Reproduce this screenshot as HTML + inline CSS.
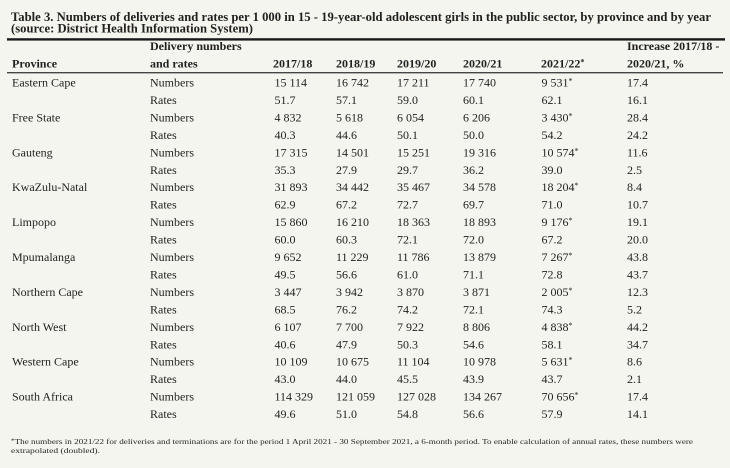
<!DOCTYPE html>
<html>
<head>
<meta charset="utf-8">
<style>
  html, body { margin:0; padding:0; background:#f3f5ee; }
  body { width:730px; height:468px; overflow:hidden; }
  svg { display:block; }
  text { font-family:"Liberation Serif", serif; fill:#231f20; }
  .t { font-size:13px; font-weight:bold; }
  .h { font-size:12px; font-weight:bold; }
  .d { font-size:12px; }
  .f { font-size:7.6px; }
</style>
</head>
<body>
<svg width="730" height="468" viewBox="0 0 730 468" xmlns="http://www.w3.org/2000/svg">
  <rect x="0" y="0" width="730" height="468" fill="#f3f5ee"/>
  <!-- Title -->
  <text class="t" x="11" y="21" textLength="700" lengthAdjust="spacingAndGlyphs">Table 3. Numbers of deliveries and rates per 1 000 in 15 - 19-year-old adolescent girls in the public sector, by province and by year</text>
  <text class="t" x="11" y="32.5" textLength="242" lengthAdjust="spacingAndGlyphs">(source: District Health Information System)</text>
  <rect x="7" y="38.2" width="718" height="2.4" fill="#1a1a1a"/>

  <!-- Header -->
  <text class="h" x="150" y="50">Delivery numbers</text>
  <text class="h" x="627" y="50">Increase 2017/18 -</text>
  <text class="h" x="12" y="67.5">Province</text>
  <text class="h" x="150" y="67.5">and rates</text>
  <text class="h" x="273" y="67.5">2017/18</text>
  <text class="h" x="336" y="67.5">2018/19</text>
  <text class="h" x="397" y="67.5">2019/20</text>
  <text class="h" x="463" y="67.5">2020/21</text>
  <text class="h" x="541" y="67.5">2021/22<tspan font-size="8" dy="-3">*</tspan></text>
  <text class="h" x="627" y="67.5">2020/21, %</text>
  <rect x="7" y="72.2" width="716" height="1.1" fill="#1a1a1a"/>

  <!-- Body -->
  <g class="d">
    <!-- Eastern Cape -->
    <text class="d" x="12" y="86.5">Eastern Cape</text>
    <text class="d" x="150" y="86.5">Numbers</text>
    <text class="d" x="274.5" y="86.5">15 114</text>
    <text class="d" x="336" y="86.5">16 742</text>
    <text class="d" x="397" y="86.5">17 211</text>
    <text class="d" x="463" y="86.5">17 740</text>
    <text class="d" x="541.5" y="86.5">9 531<tspan font-size="8" dy="-3">*</tspan></text>
    <text class="d" x="627" y="86.5">17.4</text>

    <text class="d" x="150" y="103.95">Rates</text>
    <text class="d" x="274.5" y="103.95">51.7</text>
    <text class="d" x="336" y="103.95">57.1</text>
    <text class="d" x="397" y="103.95">59.0</text>
    <text class="d" x="463" y="103.95">60.1</text>
    <text class="d" x="541.5" y="103.95">62.1</text>
    <text class="d" x="627" y="103.95">16.1</text>

    <!-- Free State -->
    <text class="d" x="12" y="121.4">Free State</text>
    <text class="d" x="150" y="121.4">Numbers</text>
    <text class="d" x="274.5" y="121.4">4 832</text>
    <text class="d" x="336" y="121.4">5 618</text>
    <text class="d" x="397" y="121.4">6 054</text>
    <text class="d" x="463" y="121.4">6 206</text>
    <text class="d" x="541.5" y="121.4">3 430<tspan font-size="8" dy="-3">*</tspan></text>
    <text class="d" x="627" y="121.4">28.4</text>

    <text class="d" x="150" y="138.85">Rates</text>
    <text class="d" x="274.5" y="138.85">40.3</text>
    <text class="d" x="336" y="138.85">44.6</text>
    <text class="d" x="397" y="138.85">50.1</text>
    <text class="d" x="463" y="138.85">50.0</text>
    <text class="d" x="541.5" y="138.85">54.2</text>
    <text class="d" x="627" y="138.85">24.2</text>

    <!-- Gauteng -->
    <text class="d" x="12" y="156.3">Gauteng</text>
    <text class="d" x="150" y="156.3">Numbers</text>
    <text class="d" x="274.5" y="156.3">17 315</text>
    <text class="d" x="336" y="156.3">14 501</text>
    <text class="d" x="397" y="156.3">15 251</text>
    <text class="d" x="463" y="156.3">19 316</text>
    <text class="d" x="541.5" y="156.3">10 574<tspan font-size="8" dy="-3">*</tspan></text>
    <text class="d" x="627" y="156.3">11.6</text>

    <text class="d" x="150" y="173.75">Rates</text>
    <text class="d" x="274.5" y="173.75">35.3</text>
    <text class="d" x="336" y="173.75">27.9</text>
    <text class="d" x="397" y="173.75">29.7</text>
    <text class="d" x="463" y="173.75">36.2</text>
    <text class="d" x="541.5" y="173.75">39.0</text>
    <text class="d" x="627" y="173.75">2.5</text>

    <!-- KwaZulu-Natal -->
    <text class="d" x="12" y="191.2">KwaZulu-Natal</text>
    <text class="d" x="150" y="191.2">Numbers</text>
    <text class="d" x="274.5" y="191.2">31 893</text>
    <text class="d" x="336" y="191.2">34 442</text>
    <text class="d" x="397" y="191.2">35 467</text>
    <text class="d" x="463" y="191.2">34 578</text>
    <text class="d" x="541.5" y="191.2">18 204<tspan font-size="8" dy="-3">*</tspan></text>
    <text class="d" x="627" y="191.2">8.4</text>

    <text class="d" x="150" y="208.65">Rates</text>
    <text class="d" x="274.5" y="208.65">62.9</text>
    <text class="d" x="336" y="208.65">67.2</text>
    <text class="d" x="397" y="208.65">72.7</text>
    <text class="d" x="463" y="208.65">69.7</text>
    <text class="d" x="541.5" y="208.65">71.0</text>
    <text class="d" x="627" y="208.65">10.7</text>

    <!-- Limpopo -->
    <text class="d" x="12" y="226.1">Limpopo</text>
    <text class="d" x="150" y="226.1">Numbers</text>
    <text class="d" x="274.5" y="226.1">15 860</text>
    <text class="d" x="336" y="226.1">16 210</text>
    <text class="d" x="397" y="226.1">18 363</text>
    <text class="d" x="463" y="226.1">18 893</text>
    <text class="d" x="541.5" y="226.1">9 176<tspan font-size="8" dy="-3">*</tspan></text>
    <text class="d" x="627" y="226.1">19.1</text>

    <text class="d" x="150" y="243.55">Rates</text>
    <text class="d" x="274.5" y="243.55">60.0</text>
    <text class="d" x="336" y="243.55">60.3</text>
    <text class="d" x="397" y="243.55">72.1</text>
    <text class="d" x="463" y="243.55">72.0</text>
    <text class="d" x="541.5" y="243.55">67.2</text>
    <text class="d" x="627" y="243.55">20.0</text>

    <!-- Mpumalanga -->
    <text class="d" x="12" y="261">Mpumalanga</text>
    <text class="d" x="150" y="261">Numbers</text>
    <text class="d" x="274.5" y="261">9 652</text>
    <text class="d" x="336" y="261">11 229</text>
    <text class="d" x="397" y="261">11 786</text>
    <text class="d" x="463" y="261">13 879</text>
    <text class="d" x="541.5" y="261">7 267<tspan font-size="8" dy="-3">*</tspan></text>
    <text class="d" x="627" y="261">43.8</text>

    <text class="d" x="150" y="278.45">Rates</text>
    <text class="d" x="274.5" y="278.45">49.5</text>
    <text class="d" x="336" y="278.45">56.6</text>
    <text class="d" x="397" y="278.45">61.0</text>
    <text class="d" x="463" y="278.45">71.1</text>
    <text class="d" x="541.5" y="278.45">72.8</text>
    <text class="d" x="627" y="278.45">43.7</text>

    <!-- Northern Cape -->
    <text class="d" x="12" y="295.9">Northern Cape</text>
    <text class="d" x="150" y="295.9">Numbers</text>
    <text class="d" x="274.5" y="295.9">3 447</text>
    <text class="d" x="336" y="295.9">3 942</text>
    <text class="d" x="397" y="295.9">3 870</text>
    <text class="d" x="463" y="295.9">3 871</text>
    <text class="d" x="541.5" y="295.9">2 005<tspan font-size="8" dy="-3">*</tspan></text>
    <text class="d" x="627" y="295.9">12.3</text>

    <text class="d" x="150" y="313.35">Rates</text>
    <text class="d" x="274.5" y="313.35">68.5</text>
    <text class="d" x="336" y="313.35">76.2</text>
    <text class="d" x="397" y="313.35">74.2</text>
    <text class="d" x="463" y="313.35">72.1</text>
    <text class="d" x="541.5" y="313.35">74.3</text>
    <text class="d" x="627" y="313.35">5.2</text>

    <!-- North West -->
    <text class="d" x="12" y="330.8">North West</text>
    <text class="d" x="150" y="330.8">Numbers</text>
    <text class="d" x="274.5" y="330.8">6 107</text>
    <text class="d" x="336" y="330.8">7 700</text>
    <text class="d" x="397" y="330.8">7 922</text>
    <text class="d" x="463" y="330.8">8 806</text>
    <text class="d" x="541.5" y="330.8">4 838<tspan font-size="8" dy="-3">*</tspan></text>
    <text class="d" x="627" y="330.8">44.2</text>

    <text class="d" x="150" y="348.25">Rates</text>
    <text class="d" x="274.5" y="348.25">40.6</text>
    <text class="d" x="336" y="348.25">47.9</text>
    <text class="d" x="397" y="348.25">50.3</text>
    <text class="d" x="463" y="348.25">54.6</text>
    <text class="d" x="541.5" y="348.25">58.1</text>
    <text class="d" x="627" y="348.25">34.7</text>

    <!-- Western Cape -->
    <text class="d" x="12" y="365.7">Western Cape</text>
    <text class="d" x="150" y="365.7">Numbers</text>
    <text class="d" x="274.5" y="365.7">10 109</text>
    <text class="d" x="336" y="365.7">10 675</text>
    <text class="d" x="397" y="365.7">11 104</text>
    <text class="d" x="463" y="365.7">10 978</text>
    <text class="d" x="541.5" y="365.7">5 631<tspan font-size="8" dy="-3">*</tspan></text>
    <text class="d" x="627" y="365.7">8.6</text>

    <text class="d" x="150" y="383.15">Rates</text>
    <text class="d" x="274.5" y="383.15">43.0</text>
    <text class="d" x="336" y="383.15">44.0</text>
    <text class="d" x="397" y="383.15">45.5</text>
    <text class="d" x="463" y="383.15">43.9</text>
    <text class="d" x="541.5" y="383.15">43.7</text>
    <text class="d" x="627" y="383.15">2.1</text>

    <!-- South Africa -->
    <text class="d" x="12" y="400.6">South Africa</text>
    <text class="d" x="150" y="400.6">Numbers</text>
    <text class="d" x="274.5" y="400.6">114 329</text>
    <text class="d" x="336" y="400.6">121 059</text>
    <text class="d" x="397" y="400.6">127 028</text>
    <text class="d" x="463" y="400.6">134 267</text>
    <text class="d" x="541.5" y="400.6">70 656<tspan font-size="8" dy="-3">*</tspan></text>
    <text class="d" x="627" y="400.6">17.4</text>

    <text class="d" x="150" y="418.05">Rates</text>
    <text class="d" x="274.5" y="418.05">49.6</text>
    <text class="d" x="336" y="418.05">51.0</text>
    <text class="d" x="397" y="418.05">54.8</text>
    <text class="d" x="463" y="418.05">56.6</text>
    <text class="d" x="541.5" y="418.05">57.9</text>
    <text class="d" x="627" y="418.05">14.1</text>
  </g>

  <!-- Footnote -->
  <text class="f" x="11" y="444" textLength="682" lengthAdjust="spacingAndGlyphs"><tspan font-size="6" dy="-1.5">*</tspan><tspan dy="1.5">The numbers in 2021/22 for deliveries and terminations are for the period 1 April 2021 - 30 September 2021, a 6-month period. To enable calculation of annual rates, these numbers were</tspan></text>
  <text class="f" x="11" y="453" textLength="89" lengthAdjust="spacingAndGlyphs">extrapolated (doubled).</text>
</svg>
</body>
</html>
